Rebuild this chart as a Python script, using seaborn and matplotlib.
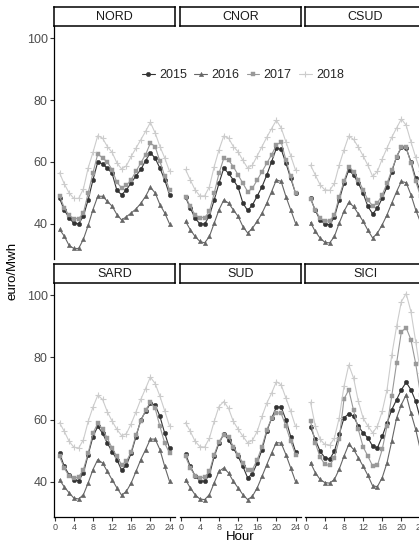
import matplotlib
matplotlib.use("Agg")
import matplotlib.pyplot as plt
from matplotlib.lines import Line2D
import seaborn as sns
import pandas as pd

hours = list(range(1, 25))
years = ["2015", "2016", "2017", "2018"]
zones = ["NORD", "CNOR", "CSUD", "SARD", "SUD", "SICI"]
x_ticks = [0, 4, 8, 12, 16, 20, 24]
y_ticks = [40, 60, 80, 100]

nord_2015 = [48.3, 44.4, 42.0, 40.1, 40.0, 42.5, 47.8, 54.2, 60.0, 59.4, 58.0, 56.3, 50.8, 49.4, 51.0, 53.3, 55.5, 57.6, 60.4, 63.0, 61.2, 58.0, 54.2, 49.4]
nord_2016 = [38.2, 36.0, 33.0, 32.0, 32.0, 35.0, 39.5, 44.6, 48.9, 48.9, 47.3, 45.7, 43.0, 41.2, 42.3, 43.5, 44.8, 46.6, 48.9, 51.8, 50.0, 46.2, 43.5, 40.0]
nord_2017 = [49.1, 45.2, 42.7, 41.7, 41.7, 43.5, 50.0, 56.5, 62.6, 61.3, 60.0, 57.5, 53.4, 51.6, 52.4, 54.3, 57.0, 59.7, 62.4, 66.1, 65.0, 60.2, 55.4, 51.0]
nord_2018 = [56.5, 52.9, 50.0, 48.2, 48.2, 51.3, 58.1, 63.1, 68.5, 67.7, 65.0, 63.1, 59.7, 57.7, 58.8, 61.8, 64.5, 67.2, 69.9, 72.8, 69.4, 65.0, 61.3, 57.0]

cnor_2015 = [48.6, 45.1, 41.8, 40.0, 39.9, 42.6, 47.7, 53.1, 58.0, 56.3, 54.2, 51.8, 46.7, 44.3, 46.1, 49.0, 52.0, 55.8, 60.1, 64.4, 64.1, 59.6, 54.7, 49.9]
cnor_2016 = [40.8, 38.1, 35.9, 34.3, 33.8, 35.9, 40.2, 44.5, 47.7, 46.7, 44.5, 42.4, 39.1, 37.0, 38.6, 40.8, 43.4, 46.7, 50.4, 54.2, 53.7, 48.8, 44.5, 40.2]
cnor_2017 = [48.8, 45.6, 42.9, 42.0, 42.0, 44.0, 49.9, 56.3, 61.2, 60.6, 58.5, 55.8, 53.1, 50.4, 51.5, 54.2, 56.9, 59.6, 62.3, 65.5, 66.5, 60.6, 55.3, 49.9]
cnor_2018 = [57.6, 54.2, 51.0, 49.0, 49.0, 52.0, 58.5, 63.9, 68.4, 67.7, 65.0, 63.3, 60.5, 58.0, 59.0, 62.0, 65.0, 68.0, 70.8, 73.5, 71.0, 66.5, 62.0, 57.4]

csud_2015 = [48.3, 44.3, 41.3, 39.9, 39.7, 42.2, 47.7, 53.1, 57.4, 55.8, 53.1, 49.9, 45.6, 43.2, 45.1, 48.3, 52.0, 56.9, 61.7, 64.7, 64.4, 60.1, 54.7, 50.0]
csud_2016 = [40.4, 37.5, 35.4, 34.0, 33.8, 35.9, 40.2, 44.0, 46.9, 45.6, 43.2, 40.8, 37.9, 35.4, 37.0, 39.7, 42.9, 46.7, 50.4, 53.7, 53.3, 49.4, 44.5, 40.5]
csud_2017 = [48.0, 44.5, 41.8, 40.8, 41.0, 42.9, 48.8, 53.7, 58.5, 56.9, 54.2, 51.0, 47.7, 45.8, 46.7, 49.4, 53.1, 57.4, 61.7, 65.0, 64.7, 59.6, 53.7, 49.0]
csud_2018 = [59.0, 55.8, 52.6, 51.0, 50.8, 53.1, 59.0, 63.9, 68.4, 67.3, 64.8, 62.0, 58.9, 55.3, 57.0, 61.0, 64.5, 68.0, 71.0, 73.9, 71.9, 66.5, 61.5, 57.0]

sard_2015 = [49.2, 44.9, 42.2, 40.6, 40.3, 42.8, 48.7, 54.5, 57.8, 55.6, 52.4, 49.7, 47.1, 43.6, 45.4, 49.2, 54.5, 59.9, 62.6, 65.2, 64.7, 61.0, 55.6, 50.8]
sard_2016 = [40.6, 38.3, 36.4, 34.7, 34.4, 35.8, 39.6, 43.9, 47.1, 46.0, 43.3, 40.6, 38.0, 35.6, 36.9, 39.6, 43.3, 47.1, 50.3, 53.7, 53.7, 50.3, 44.9, 40.1]
sard_2017 = [48.1, 44.4, 41.7, 41.2, 41.5, 43.9, 49.2, 55.6, 58.8, 56.9, 54.0, 50.8, 48.1, 45.4, 46.5, 49.7, 55.1, 59.4, 63.1, 65.5, 63.6, 57.8, 52.4, 49.2]
sard_2018 = [59.0, 56.2, 53.0, 51.1, 50.8, 53.5, 59.4, 64.0, 67.8, 66.5, 62.5, 59.5, 56.8, 54.8, 55.5, 58.7, 62.5, 66.5, 70.0, 73.7, 71.6, 67.5, 62.8, 57.9]

sud_2015 = [49.0, 44.9, 41.9, 40.3, 40.1, 42.2, 48.1, 52.4, 55.3, 53.5, 50.8, 48.1, 44.9, 41.2, 42.6, 46.0, 50.3, 56.2, 60.4, 64.0, 64.0, 59.9, 54.5, 49.7]
sud_2016 = [40.6, 38.0, 35.8, 34.4, 34.2, 35.8, 39.6, 43.3, 44.4, 42.8, 40.1, 38.0, 35.8, 34.2, 35.3, 38.0, 41.7, 45.5, 49.2, 52.6, 52.4, 48.7, 44.4, 40.1]
sud_2017 = [48.1, 44.4, 41.9, 41.2, 41.5, 43.3, 48.7, 52.9, 55.1, 54.5, 51.3, 48.7, 46.0, 43.6, 43.9, 47.1, 51.3, 56.7, 60.4, 62.2, 62.0, 57.8, 53.0, 48.7]
sud_2018 = [59.0, 56.2, 53.0, 51.3, 51.1, 54.0, 59.4, 64.2, 65.8, 63.6, 59.4, 56.9, 54.6, 52.5, 53.3, 56.2, 61.0, 65.3, 68.5, 72.2, 71.2, 66.9, 62.6, 57.8]

sici_2015 = [57.6, 53.6, 49.8, 47.7, 47.2, 49.8, 55.2, 60.5, 61.9, 61.1, 57.9, 55.7, 54.1, 51.4, 50.9, 54.6, 58.9, 63.2, 66.4, 69.6, 72.0, 69.6, 65.9, 60.0]
sici_2016 = [46.1, 42.9, 40.7, 39.7, 39.5, 40.7, 44.0, 48.2, 52.0, 50.4, 47.7, 45.0, 42.0, 38.6, 38.4, 41.3, 46.1, 53.1, 60.5, 64.8, 68.0, 62.1, 56.8, 50.0]
sici_2017 = [59.5, 52.5, 47.9, 45.6, 45.2, 47.7, 53.6, 66.6, 69.6, 63.0, 56.8, 51.2, 48.2, 45.0, 45.2, 50.4, 57.9, 67.7, 78.2, 88.3, 89.6, 85.7, 78.0, 68.0]
sici_2018 = [65.6, 57.9, 53.6, 52.0, 51.7, 54.1, 60.5, 70.7, 77.6, 73.4, 65.9, 60.5, 57.9, 55.7, 57.9, 62.7, 69.6, 80.9, 90.0, 98.0, 100.6, 94.8, 85.1, 75.0]

series = {
    "NORD": [nord_2015, nord_2016, nord_2017, nord_2018],
    "CNOR": [cnor_2015, cnor_2016, cnor_2017, cnor_2018],
    "CSUD": [csud_2015, csud_2016, csud_2017, csud_2018],
    "SARD": [sard_2015, sard_2016, sard_2017, sard_2018],
    "SUD": [sud_2015, sud_2016, sud_2017, sud_2018],
    "SICI": [sici_2015, sici_2016, sici_2017, sici_2018],
}

rows_ = []
for z in zones:
    for y, vals in zip(years, series[z]):
        for h, v in zip(hours, vals):
            rows_.append({"zone": z, "year": y, "hour": h, "price": v})
df = pd.DataFrame(rows_)

sns.set_style("white")
plt.rcParams["font.family"] = ["Liberation Sans", "DejaVu Sans"]

palette = {"2015": "#333333", "2016": "#666666", "2017": "#999999", "2018": "#cccccc"}
# seaborn cannot mix filled and line-art markers; "P" is swapped to "+" afterwards
markers = {"2015": "o", "2016": "^", "2017": "s", "2018": "P"}

W, H = 419, 546
fig = plt.figure(figsize=(W / 100, H / 100), dpi=100)

col_x = [54, 180, 305]
pw = 121
panel_rows = [(26, 259), (283, 517)]
strip_rows = [(7, 26), (264, 283)]


def style_marker_line(ln):
    col = ln.get_color()
    if ln.get_marker() == "P":
        ln.set_marker("+")
    ln.set_markeredgecolor(col)
    ln.set_markerfacecolor(col)
    if ln.get_marker() == "+":
        ln.set_markersize(4.5)
        ln.set_markeredgewidth(0.8)
    else:
        ln.set_markersize(3.2)
        ln.set_markeredgewidth(0.3)


for i, z in enumerate(zones):
    r, c = divmod(i, 3)
    top, bot = panel_rows[r]
    x0 = col_x[c]
    ax = fig.add_axes([x0 / W, 1 - bot / H, pw / W, (bot - top) / H])
    sub = df[df["zone"] == z]
    sns.lineplot(data=sub, x="hour", y="price", hue="year", style="year",
                 palette=palette, markers=markers, dashes=False,
                 hue_order=years, style_order=years,
                 legend=False, ax=ax, linewidth=0.8)
    for ln in ax.lines:
        style_marker_line(ln)
    ax.set_xlim(-0.15, 25.15)
    ax.set_ylim(28.6, 104.0)
    ax.set_xlabel("")
    ax.set_ylabel("")
    ax.set_facecolor("white")
    for s in ["top", "right"]:
        ax.spines[s].set_visible(False)
    ax.spines["left"].set_visible(c == 0)
    ax.spines["bottom"].set_visible(r == 1)
    for s in ["left", "bottom"]:
        ax.spines[s].set_color("black")
        ax.spines[s].set_linewidth(0.9)
    if c == 0:
        ax.set_yticks(y_ticks)
        ax.tick_params(axis="y", length=3, width=0.8, color="#333333",
                       labelsize=9, labelcolor="#4d4d4d", pad=1.5, left=True)
    else:
        ax.set_yticks([])
    if r == 1:
        ax.set_xticks(x_ticks)
        ax.tick_params(axis="x", length=3, width=0.8, color="#333333",
                       labelsize=6.5, labelcolor="#4d4d4d", pad=1, bottom=True)
    else:
        ax.set_xticks([])

    st, sb = strip_rows[r]
    sax = fig.add_axes([x0 / W, 1 - sb / H, pw / W, (sb - st) / H])
    sax.set_xticks([])
    sax.set_yticks([])
    sax.set_facecolor("white")
    for s in sax.spines.values():
        s.set_visible(True)
        s.set_color("black")
        s.set_linewidth(1.1)
    sax.text(0.5, 0.45, z, ha="center", va="center", fontsize=9,
             color="#1a1a1a", transform=sax.transAxes)

fig.text(240 / W, 1 - 537 / H, "Hour", ha="center", va="center", fontsize=9.5, color="black")
fig.text(12 / W, 1 - 271 / H, "euro/Mwh", ha="center", va="center", rotation=90,
         fontsize=9.5, color="black")

handles = []
for y in years:
    h = Line2D([0], [0], color=palette[y], marker=markers[y], linewidth=0.8)
    style_marker_line(h)
    handles.append(h)
fig.legend(handles, years, loc="center", bbox_to_anchor=(243 / W, 1 - 75 / H),
           ncol=4, frameon=False, handlelength=1.0, handletextpad=0.35,
           columnspacing=0.6, fontsize=9)

fig.savefig("out.png", dpi=100)
